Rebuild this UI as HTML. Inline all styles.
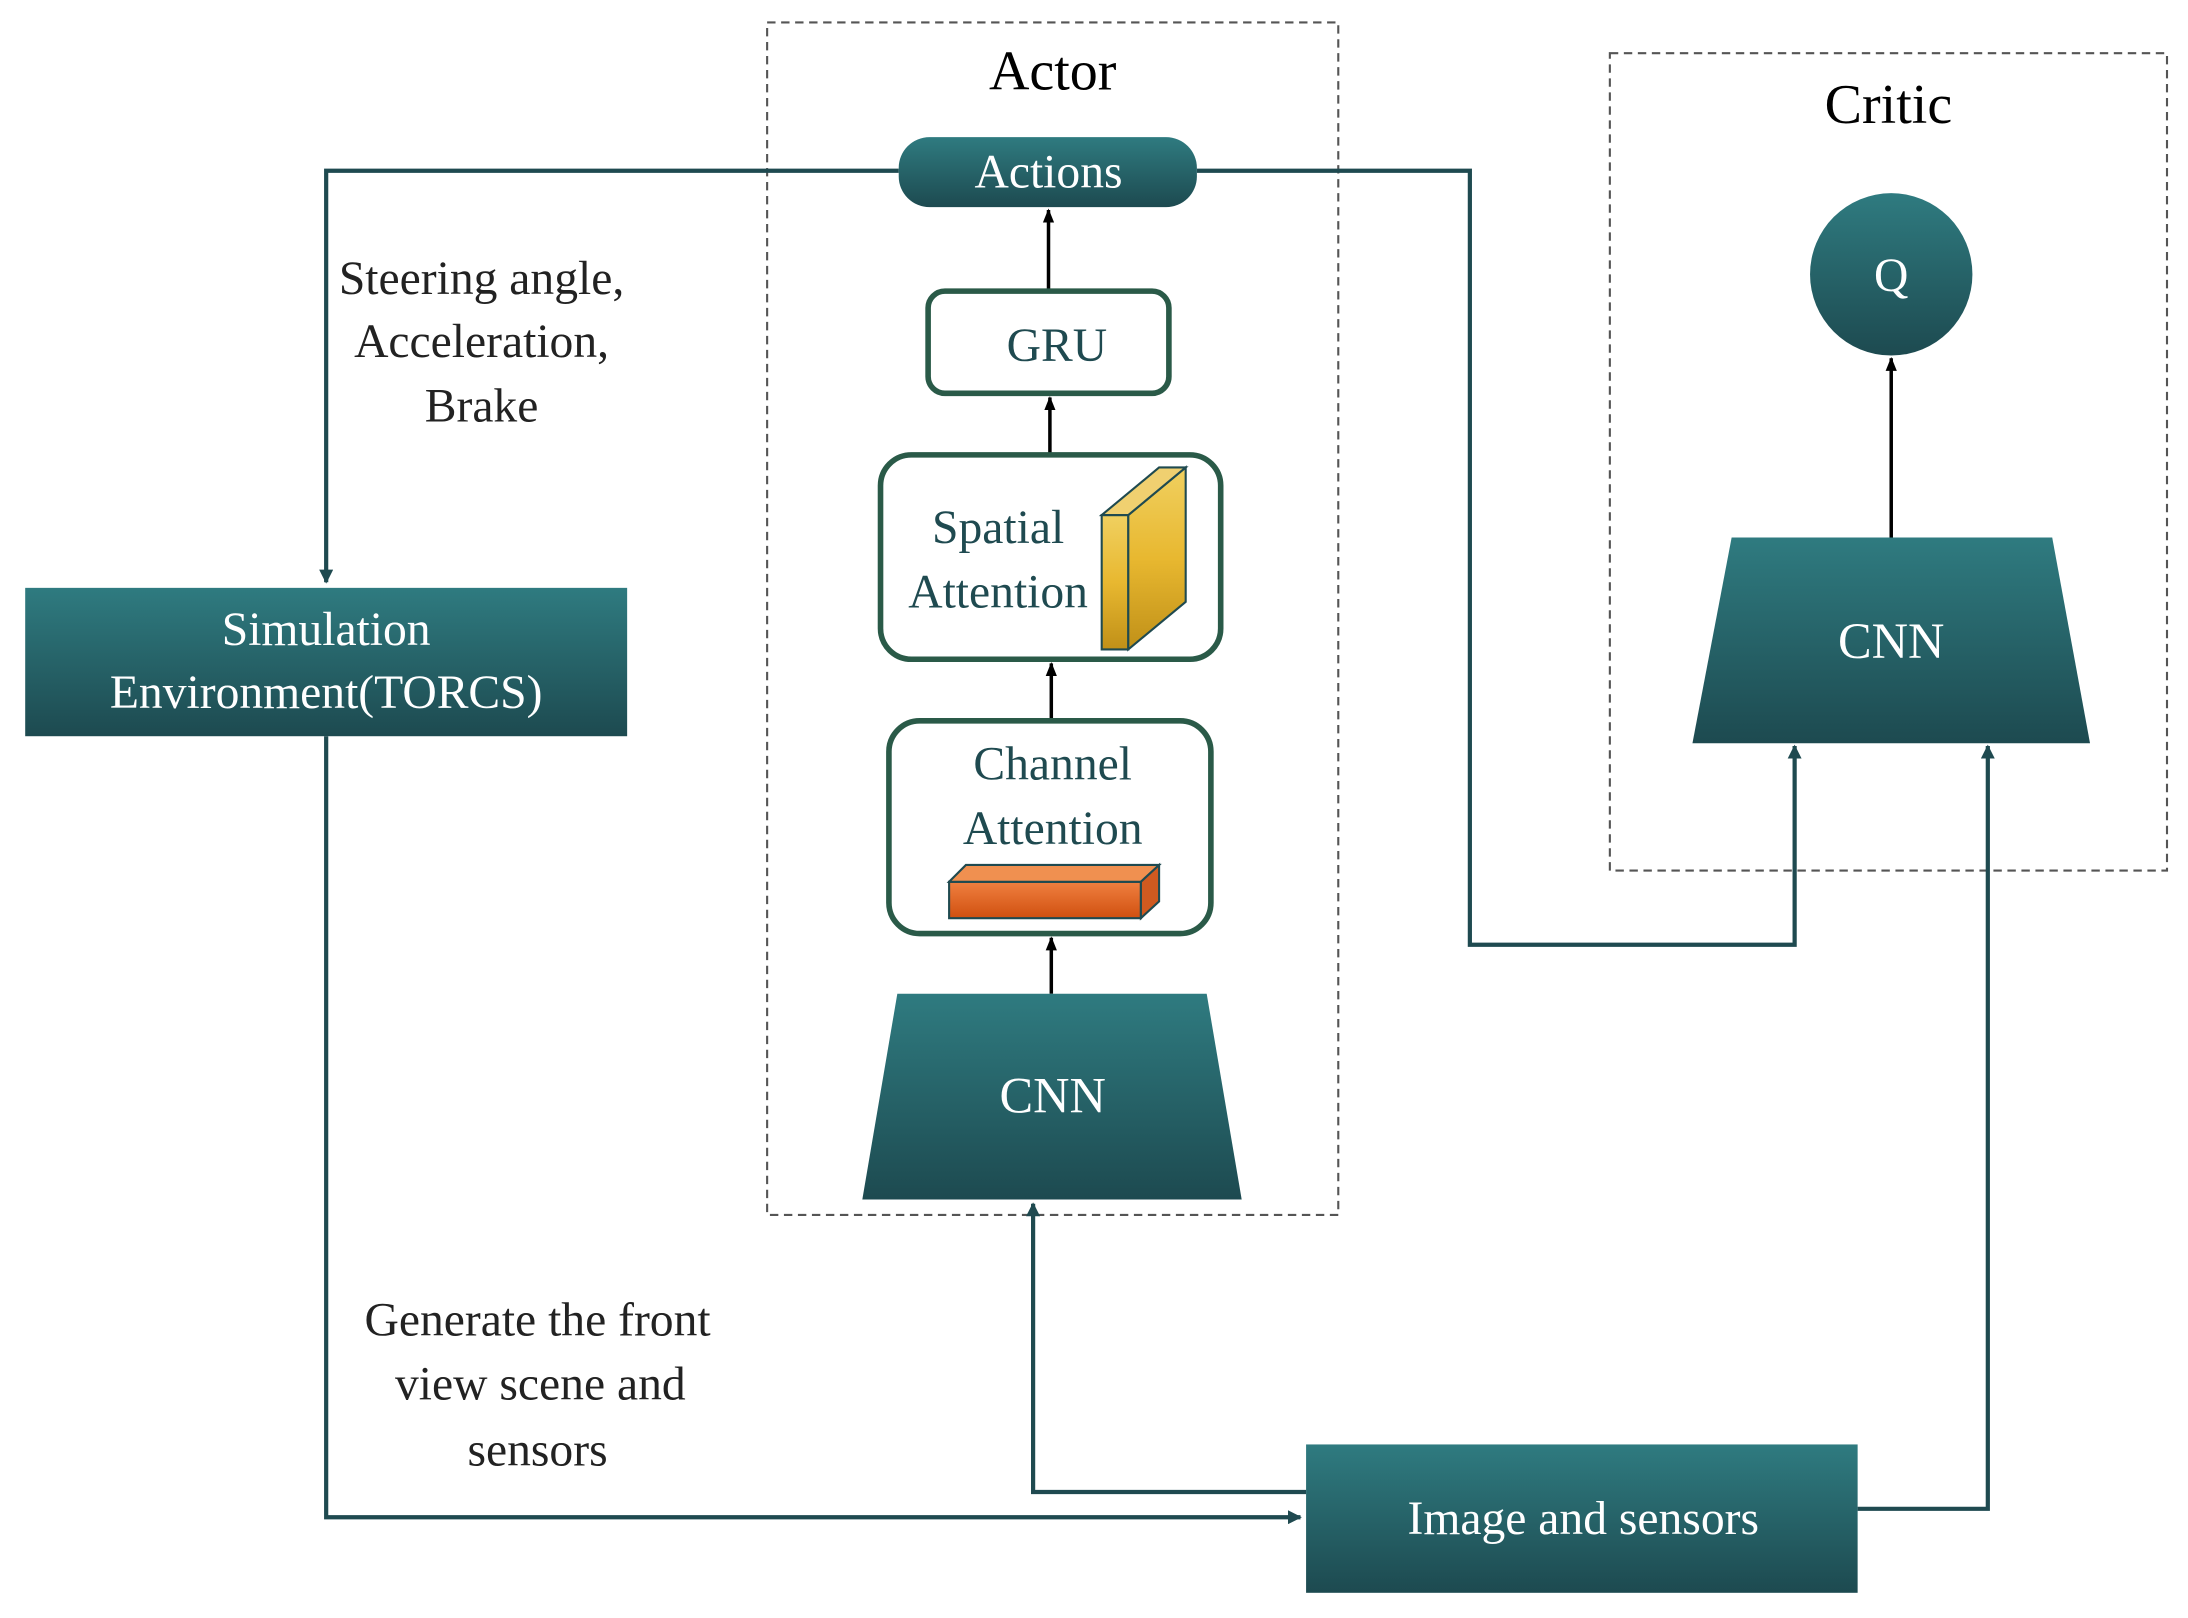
<!DOCTYPE html>
<html><head><meta charset="utf-8"><style>
html,body{margin:0;padding:0;background:#fff;width:2188px;height:1618px;overflow:hidden}
svg{display:block}
text{font-family:"Liberation Serif",serif}
</style></head><body>
<svg width="2188" height="1618" viewBox="0 0 1563 1156" preserveAspectRatio="none" xmlns="http://www.w3.org/2000/svg">
<defs>
<linearGradient id="tg" x1="0" y1="0" x2="0" y2="1"><stop offset="0" stop-color="#2f7b80"/><stop offset="1" stop-color="#1d4a50"/></linearGradient>
<linearGradient id="yg" x1="0" y1="0" x2="0" y2="1"><stop offset="0" stop-color="#f0d060"/><stop offset="0.5" stop-color="#e8b830"/><stop offset="1" stop-color="#c09018"/></linearGradient>
<linearGradient id="og" x1="0" y1="0" x2="0" y2="1"><stop offset="0" stop-color="#f08040"/><stop offset="1" stop-color="#d05010"/></linearGradient>
<marker id="a" markerWidth="10" markerHeight="10" refX="9" refY="5" orient="auto" markerUnits="userSpaceOnUse"><path d="M0,0 L10,5 L0,10 Z" fill="#1f4a50"/></marker>
<marker id="b" markerWidth="10" markerHeight="10" refX="9" refY="5" orient="auto" markerUnits="userSpaceOnUse"><path d="M0,1 L10,5 L0,9 Z" fill="#000"/></marker>
</defs>
<!-- dashed boxes -->
<rect x="548" y="16" width="408" height="852" fill="none" stroke="#555" stroke-width="1.5" stroke-dasharray="6,4"/>
<rect x="1150" y="38" width="398" height="584" fill="none" stroke="#555" stroke-width="1.5" stroke-dasharray="6,4"/>
<text x="752" y="64" font-size="40" text-anchor="middle">Actor</text>
<text x="1349" y="88" font-size="40" text-anchor="middle">Critic</text>
<!-- connectors -->
<g fill="none" stroke="#1f4a50" stroke-width="3">
<polyline points="642,122 233,122 233,416" marker-end="url(#a)"/>
<polyline points="233,526 233,1084 929,1084" marker-end="url(#a)"/>
<polyline points="933,1066 738,1066 738,860" marker-end="url(#a)"/>
<polyline points="1327,1078 1420,1078 1420,533" marker-end="url(#a)"/>
<polyline points="855,122 1050,122 1050,675 1282,675 1282,533" marker-end="url(#a)"/>
</g>
<g stroke="#000" stroke-width="2.5" fill="none">
<line x1="1351" y1="384" x2="1351" y2="256" marker-end="url(#b)"/>
<line x1="751" y1="710" x2="751" y2="670" marker-end="url(#b)"/>
<line x1="751" y1="514" x2="751" y2="474" marker-end="url(#b)"/>
<line x1="750" y1="324" x2="750" y2="284" marker-end="url(#b)"/>
<line x1="749" y1="207" x2="749" y2="150" marker-end="url(#b)"/>
</g>
<!-- Actions -->
<rect x="642" y="98" width="213" height="50" rx="22" fill="url(#tg)"/>
<text x="749" y="134" font-size="34" fill="#fff" text-anchor="middle">Actions</text>
<!-- GRU -->
<rect x="663" y="208" width="172" height="73" rx="12" fill="#fff" stroke="#2a5a48" stroke-width="4"/>
<text x="755" y="258" font-size="34" fill="#1f4a50" text-anchor="middle">GRU</text>
<!-- Spatial -->
<rect x="629" y="325" width="243" height="146" rx="22" fill="#fff" stroke="#2a5a48" stroke-width="4"/>
<text x="713" y="388" font-size="34" fill="#1f4a50" text-anchor="middle">Spatial</text>
<text x="713" y="434" font-size="34" fill="#1f4a50" text-anchor="middle">Attention</text>
<g stroke="#1f4a50" stroke-width="1.5">
<polygon points="787,368 806,368 806,464 787,464" fill="url(#yg)"/>
<polygon points="806,368 847,334 847,430 806,464" fill="url(#yg)"/>
<polygon points="787,368 828,334 847,334 806,368" fill="#f0d070"/>
</g>
<!-- Channel -->
<rect x="635" y="515" width="230" height="152" rx="22" fill="#fff" stroke="#2a5a48" stroke-width="4"/>
<text x="752" y="557" font-size="34" fill="#1f4a50" text-anchor="middle">Channel</text>
<text x="752" y="603" font-size="34" fill="#1f4a50" text-anchor="middle">Attention</text>
<g stroke="#1f4a50" stroke-width="1.5">
<polygon points="678,630 815,630 815,656 678,656" fill="url(#og)"/>
<polygon points="678,630 690,618 828,618 815,630" fill="#f09050"/>
<polygon points="815,630 828,618 828,644 815,656" fill="#d05a20"/>
</g>
<!-- CNNs -->
<polygon points="641,710 862,710 887,857 616,857" fill="url(#tg)"/>
<text x="752" y="795" font-size="36" fill="#fff" text-anchor="middle">CNN</text>
<polygon points="1237,384 1466,384 1493,531 1209,531" fill="url(#tg)"/>
<text x="1351" y="470" font-size="36" fill="#fff" text-anchor="middle">CNN</text>
<circle cx="1351" cy="196" r="58" fill="url(#tg)"/>
<text x="1351" y="208" font-size="34" fill="#fff" text-anchor="middle">Q</text>
<!-- Simulation -->
<rect x="18" y="420" width="430" height="106" fill="url(#tg)"/>
<text x="233" y="461" font-size="34" fill="#fff" text-anchor="middle">Simulation</text>
<text x="233" y="506" font-size="34" fill="#fff" text-anchor="middle">Environment(TORCS)</text>
<!-- Image and sensors -->
<rect x="933" y="1032" width="394" height="106" fill="url(#tg)"/>
<text x="1131" y="1096" font-size="34" fill="#fff" text-anchor="middle">Image and sensors</text>
<!-- labels -->
<g font-size="34" fill="#222" text-anchor="middle">
<text x="344" y="210">Steering angle,</text>
<text x="344" y="255">Acceleration,</text>
<text x="344" y="301">Brake</text>
<text x="384" y="954">Generate the front</text>
<text x="386" y="1000">view scene and</text>
<text x="384" y="1047">sensors</text>
</g>
</svg>
</body></html>
